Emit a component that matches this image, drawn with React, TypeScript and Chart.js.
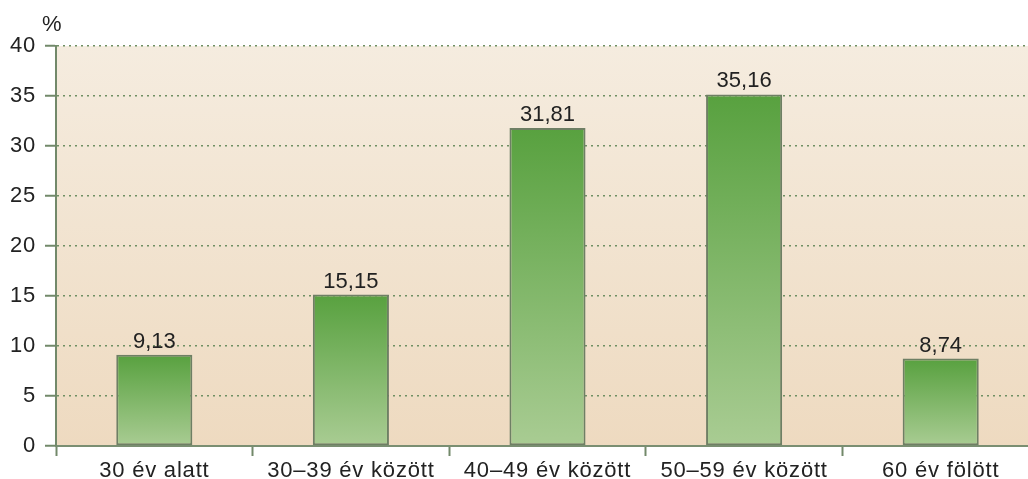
import React, { useEffect, useRef } from "react";
import { Chart, registerables } from "chart.js";

Chart.register(...registerables);

const categories = ["30 év alatt", "30–39 év között", "40–49 év között", "50–59 év között", "60 év fölött"];
const values = [9.13, 15.15, 31.81, 35.16, 8.74];
const yTickMin = 0;
const yTickMax = 40;
const yTickStep = 5;
const unitLabel = "%";

const FONT = '"Liberation Sans", Arial, sans-serif';
const formatValue = (v: number) => v.toFixed(2).replace(".", ",");

export default function App() {
  const ref = useRef<HTMLCanvasElement | null>(null);

  useEffect(() => {
    const canvas = ref.current;
    if (!canvas) return;

    const bgPlugin = {
      id: "bgGradient",
      beforeDraw(chart: any) {
        const { ctx, chartArea } = chart;
        if (!chartArea) return;
        const g = ctx.createLinearGradient(0, chartArea.top, 0, chartArea.bottom);
        g.addColorStop(0, "#f5ecdf");
        g.addColorStop(1, "#eedac0");
        ctx.save();
        ctx.fillStyle = g;
        ctx.fillRect(chartArea.left, chartArea.top, chartArea.right - chartArea.left, chartArea.bottom - chartArea.top);
        ctx.restore();
        // slightly wider tracking for axis labels (matches reference)
        ctx.letterSpacing = "0.8px";
      },
      beforeDatasetsDraw(chart: any) {
        chart.ctx.letterSpacing = "0px";
      },
    };

    const labelPlugin = {
      id: "valueLabels",
      afterDatasetsDraw(chart: any) {
        const { ctx } = chart;
        const meta = chart.getDatasetMeta(0);
        ctx.save();
        ctx.letterSpacing = "0px";
        ctx.font = `22px ${FONT}`;
        ctx.fillStyle = "#222222";
        ctx.textAlign = "center";
        ctx.textBaseline = "alphabetic";
        meta.data.forEach((el: any, i: number) => {
          ctx.fillText(formatValue(values[i]), el.x, el.y - 7);
        });
        ctx.textAlign = "left";
        ctx.fillText(unitLabel, 42, 31);
        ctx.restore();
      },
    };

    const chart = new Chart(canvas, {
      type: "bar",
      data: {
        labels: categories,
        datasets: [
          {
            data: values,
            backgroundColor: (c: any) => {
              const ch = c.chart;
              const ys = ch.scales && ch.scales.y;
              if (!ys || !ch.chartArea || c.raw == null) return "#7db060";
              const top = ys.getPixelForValue(c.raw);
              const bottom = ys.getPixelForValue(0);
              if (!isFinite(top) || !isFinite(bottom) || top === bottom) return "#7db060";
              const g = ch.ctx.createLinearGradient(0, top, 0, bottom);
              g.addColorStop(0, "#58a13f");
              g.addColorStop(1, "#a9cc93");
              return g;
            },
            borderColor: "#6e7f64",
            borderWidth: 2,
            borderSkipped: false,
            barPercentage: 0.387,
            categoryPercentage: 1,
          },
        ],
      },
      options: {
        responsive: false,
        animation: false,
        layout: { padding: { top: 46, right: 0, bottom: 0, left: 0 } },
        plugins: {
          legend: { display: false },
          tooltip: { enabled: false },
          title: { display: false },
        },
        scales: {
          x: {
            offset: true,
            grid: {
              offset: true,
              drawOnChartArea: false,
              drawTicks: true,
              tickLength: 10,
              tickColor: "#72896a",
              tickWidth: 2,
            },
            border: { display: true, color: "#7a8f72", width: 2 },
            ticks: {
              font: { family: FONT, size: 22 },
              color: "#222222",
              padding: 2,
              maxRotation: 0,
              autoSkip: false,
            },
            afterFit: (scale: any) => {
              scale.height = 33;
            },
          },
          y: {
            min: yTickMin,
            max: yTickMax,
            grid: {
              color: "#6f8f63",
              lineWidth: 1.5,
              drawTicks: true,
              tickLength: 11,
              tickColor: "#72896a",
              tickWidth: 2,
              tickBorderDash: [],
            },
            border: { display: true, color: "#72896a", width: 2, dash: [2, 4] },
            ticks: {
              stepSize: yTickStep,
              font: { family: FONT, size: 22 },
              color: "#222222",
              padding: 9,
            },
            afterFit: (scale: any) => {
              scale.width = 56;
            },
          },
        },
      },
      plugins: [bgPlugin, labelPlugin],
    } as any);

    return () => {
      chart.destroy();
    };
  }, []);

  return (
    <div
      style={{
        position: "fixed",
        left: 0,
        top: 0,
        width: 1028,
        height: 479,
        overflow: "hidden",
        background: "#ffffff",
      }}
    >
      <canvas ref={ref} width={1039} height={479} style={{ display: "block" }} />
    </div>
  );
}
